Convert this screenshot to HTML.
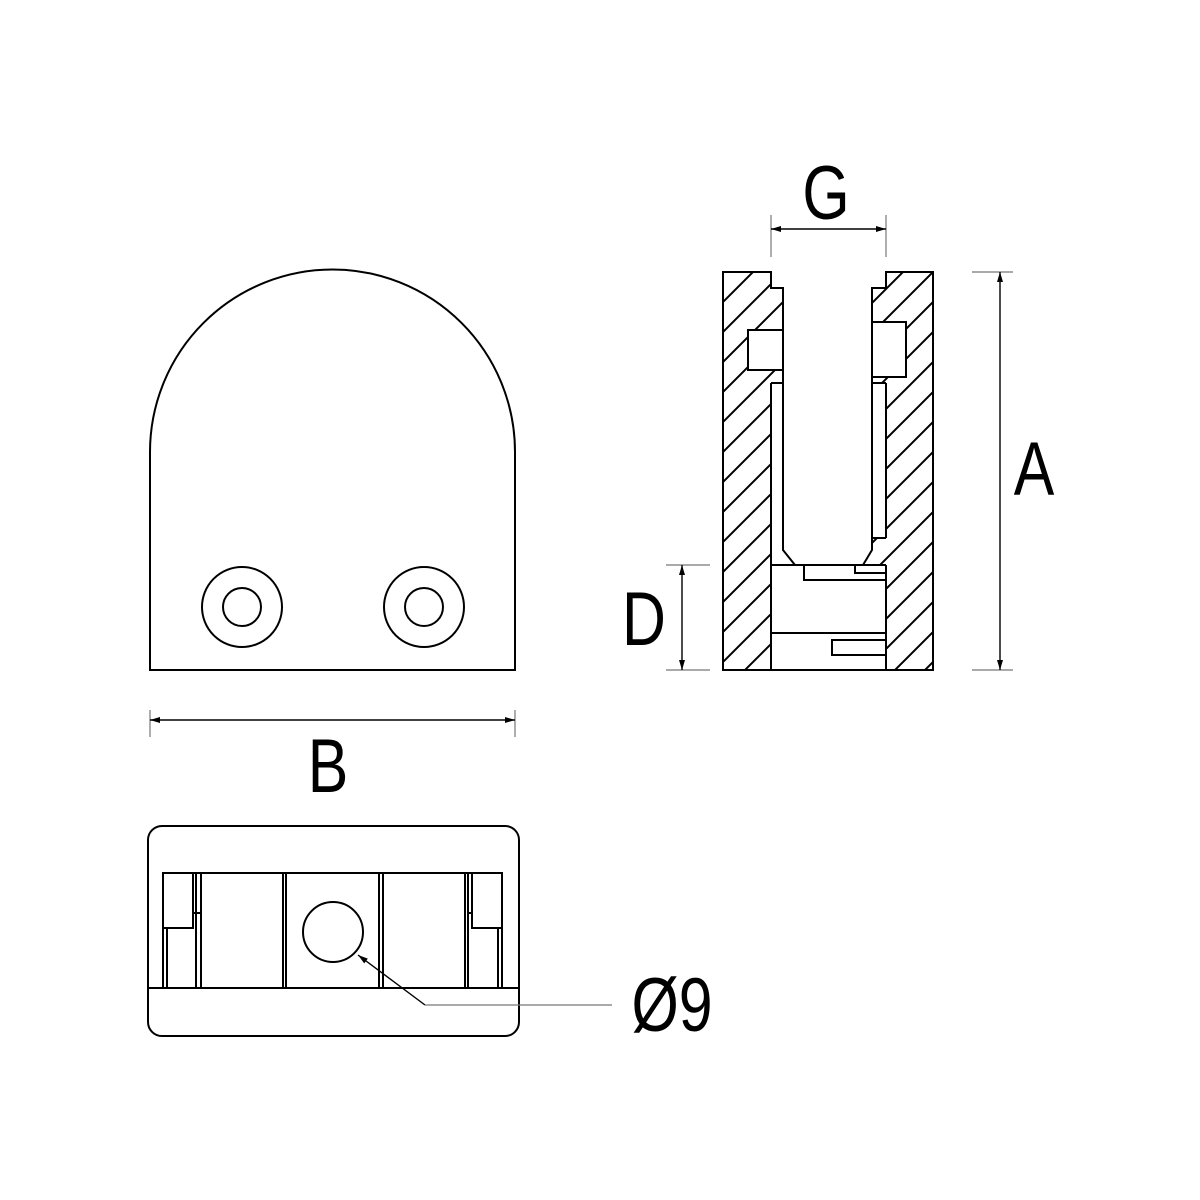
<!DOCTYPE html>
<html><head><style>html,body{margin:0;padding:0;background:#fff}svg{display:block}</style></head>
<body>
<svg width="1200" height="1200" viewBox="0 0 1200 1200" xmlns="http://www.w3.org/2000/svg">
<defs>
<pattern id="h" patternUnits="userSpaceOnUse" width="30" height="30" x="3" y="2">
<path d="M-5,35 L35,-5 M-20,20 L20,-20 M10,50 L50,10" stroke="#000" stroke-width="2"/>
</pattern>
<clipPath id="lw"><path d="M723,272 H771 V288 H783 V330 H748 V370 H783 V383 H771 V670 H723 Z"/></clipPath>
<clipPath id="rw"><path d="M886,272 H933 V670 H886 V565 H863 L872,550 V538 H886 V383 H872 V377 H906 V322 H872 V288 H886 Z"/></clipPath>
<marker id="ar" viewBox="0 0 10 6" refX="10" refY="3" markerWidth="17" markerHeight="6" markerUnits="userSpaceOnUse" orient="auto-start-reverse"><path d="M0,0 L10,3 L0,6 Z" fill="#000"/></marker>
</defs>
<rect x="715" y="265" width="230" height="410" fill="url(#h)" clip-path="url(#lw)"/>
<rect x="715" y="265" width="230" height="410" fill="url(#h)" clip-path="url(#rw)"/>
<g fill="none" stroke="#000" stroke-width="2">
<path d="M150,670 V452 A182.5,182.5 0 0 1 515,452 V670 Z"/>
<circle cx="242" cy="607" r="40"/><circle cx="242" cy="607" r="19"/>
<circle cx="424" cy="607" r="40"/><circle cx="424" cy="607" r="19"/>
<path d="M723,272 H771 V288 H783 V550 L795,565 H863 L872,550 V288 H886 V272 H933 V670 H723 Z"/>
<path d="M771,383 V670 M886,383 V538 M886,565 V670"/>
<rect x="748" y="330" width="35" height="40"/>
<rect x="872" y="322" width="34" height="55"/>
<path d="M771,383 H783 M872,383 H886 M886,538 H872"/>
<path d="M771,565 H886"/>
<path d="M804,565 V580 H886 M855,565 V573 H886"/>
<path d="M771,633 H886"/>
<path d="M886,640 H832 V655 H886"/>
<rect x="148" y="826" width="371" height="210" rx="14"/>
<path d="M148,988 H519"/>
<path d="M163,988 V873 H502 V988"/>
<path d="M201,873 V988 M283,873 V988 M286,873 V988 M379,873 V988 M383,873 V988 M465,873 V988 M468,873 V988"/>
<path d="M163,928 H193 V873 M196,873 V988 M167,928 V988 M193,913 H201"/>
<path d="M502,928 H472 V873 M498,928 V988 M472,913 H468"/>
<circle cx="333" cy="932" r="30"/>
</g>
<g stroke="#000" stroke-width="1.4" fill="none">
<path d="M425,1005 L358,955" marker-end="url(#ar)"/>
</g>
<g stroke="#777" stroke-width="1.2" fill="none">
<path d="M425,1005 H612"/>
<path d="M150,710 V737 M515,710 V737"/>
<path d="M771,215 V257 M886,215 V257"/>
<path d="M972,272 H1013 M972,670 H1013"/>
<path d="M666,565 H710 M666,670 H710"/>
</g>
<g stroke="#000" stroke-width="1.4" fill="none">
<path d="M150,720 H515" marker-start="url(#ar)" marker-end="url(#ar)"/>
<path d="M771,229 H886" marker-start="url(#ar)" marker-end="url(#ar)"/>
<path d="M1000,272 V670" marker-start="url(#ar)" marker-end="url(#ar)"/>
<path d="M682,565 V670" marker-start="url(#ar)" marker-end="url(#ar)"/>
</g>
<g font-family="Liberation Sans, sans-serif" font-size="76" fill="#000" text-anchor="middle">
<text transform="translate(328,792) scale(0.8,1)">B</text>
<text transform="translate(826,219) scale(0.8,1)">G</text>
<text transform="translate(1034,495) scale(0.8,1)">A</text>
<text transform="translate(644,645) scale(0.8,1)">D</text>
<text transform="translate(672,1031) scale(0.8,1)">Ø9</text>
</g>
</svg>
</body></html>
